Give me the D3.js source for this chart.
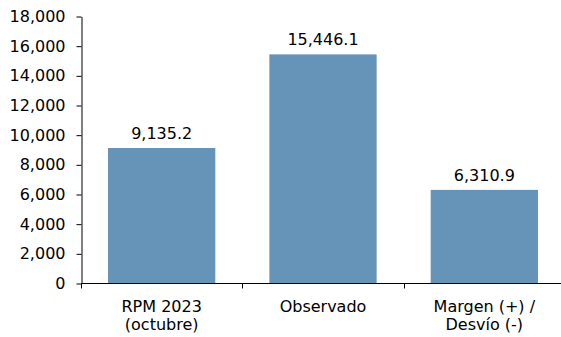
<!DOCTYPE html>
<html>
<head>
<meta charset="utf-8">
<script src="https://cdn.jsdelivr.net/npm/d3@7"></script>
<style>
  html, body { margin: 0; padding: 0; background: #fff; }
  svg { display: block; }
  text { font-family: "DejaVu Sans", Verdana, sans-serif; fill: #000; }
</style>
</head>
<body>
<svg id="chart" width="561" height="337"></svg>
<script>
// Categories (multi-line labels) and their values
const categories = [["RPM 2023", "(octubre)"], ["Observado"], ["Margen (+) /", "Desvío (-)"]];
const values = [9135.2, 15446.1, 6310.9];
const yTicks = [0, 2000, 4000, 6000, 8000, 10000, 12000, 14000, 16000, 18000];

const svg = d3.select("#chart");
const fontSize = 16;

const x = d3.scaleBand()
  .domain(d3.range(categories.length))
  .range([81, 565])
  .paddingInner(0.335)
  .paddingOuter(0.1675);

const y = d3.scaleLinear().domain([0, 18000]).range([283.5, 16.5]);

const fmtAxis = d3.format(",");
const fmtVal = d3.format(",.1f");

// bars
svg.append("g").selectAll("rect")
  .data(values)
  .join("rect")
  .attr("x", (d, i) => x(i))
  .attr("width", x.bandwidth())
  .attr("y", d => y(d))
  .attr("height", d => y(0) - y(d))
  .attr("fill", "#6693b8");

// value labels
svg.append("g").selectAll("text")
  .data(values)
  .join("text")
  .attr("x", (d, i) => x(i) + x.bandwidth() / 2)
  .attr("y", d => y(d) - 9)
  .attr("text-anchor", "middle")
  .style("font-size", fontSize + "px")
  .text(d => fmtVal(d));

// y axis
const yAxis = svg.append("g")
  .attr("transform", "translate(81.5,0)")
  .call(d3.axisLeft(y).tickValues(yTicks).tickFormat(fmtAxis).tickSize(5).tickSizeOuter(0).tickPadding(11));
yAxis.selectAll("text").style("font-size", fontSize + "px").attr("fill", "#000");
yAxis.selectAll("line, path").attr("stroke", "#000");

// x axis with ticks at band boundaries
const xAxisG = svg.append("g").attr("transform", `translate(0,${y(0)})`);
xAxisG.append("line")
  .attr("x1", 81).attr("x2", 565)
  .attr("stroke", "#000");
const bounds = d3.range(categories.length + 1).map(i => 81 + i * (484 / categories.length));
xAxisG.selectAll("line.tick")
  .data(bounds)
  .join("line")
  .attr("class", "tick")
  .attr("x1", d => Math.round(d) + 0.5).attr("x2", d => Math.round(d) + 0.5)
  .attr("y1", 0).attr("y2", 5)
  .attr("stroke", "#000");

// category labels
const cat = svg.append("g").selectAll("text")
  .data(categories)
  .join("text")
  .attr("x", (d, i) => x(i) + x.bandwidth() / 2)
  .attr("y", 311.5)
  .attr("text-anchor", "middle")
  .style("font-size", fontSize + "px");
cat.selectAll("tspan")
  .data(d => d)
  .join("tspan")
  .attr("x", function () { return this.parentNode.getAttribute("x"); })
  .attr("dy", (d, i) => i === 0 ? 0 : 18)
  .text(d => d);
</script>
</body>
</html>
